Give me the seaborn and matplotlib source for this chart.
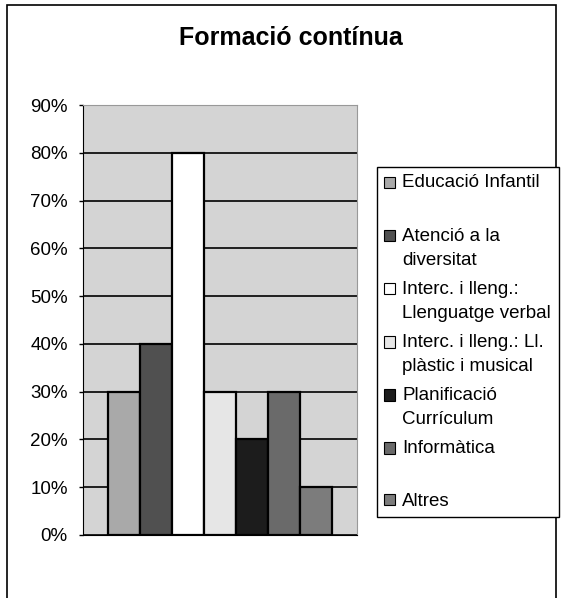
import matplotlib
matplotlib.use("Agg")
import matplotlib.pyplot as plt
import seaborn as sns
import pandas as pd
from matplotlib.patches import Patch, Rectangle
from matplotlib.legend_handler import HandlerPatch

# data
categories = ["Educació Infantil", "Atenció a la diversitat",
              "Interc. i lleng.: Llenguatge verbal",
              "Interc. i lleng.: Ll. plàstic i musical",
              "Planificació Currículum", "Informàtica", "Altres"]
values = [30, 40, 80, 30, 20, 30, 10]
legend_labels = ["Educació Infantil\n ", "Atenció a la\ndiversitat",
                 "Interc. i lleng.:\nLlenguatge verbal",
                 "Interc. i lleng.: Ll.\nplàstic i musical",
                 "Planificació\nCurrículum", "Informàtica\n ", "Altres"]
colors = ["#a9a9a9", "#505050", "#ffffff", "#e6e6e6", "#1c1c1c", "#6a6a6a", "#7c7c7c"]
yticks = [0, 10, 20, 30, 40, 50, 60, 70, 80, 90]

plt.rcParams["font.family"] = ["Liberation Sans", "DejaVu Sans"]

df = pd.DataFrame({"grup": [""] * len(categories), "categoria": categories, "valor": values})

fig = plt.figure(figsize=(5.65, 5.98), dpi=100)
ax = fig.add_axes([0.147, 0.1054, 0.485, 0.719])

sns.barplot(data=df, x="grup", y="valor", hue="categoria", hue_order=categories,
            palette=colors, width=0.82, edgecolor="black", linewidth=1.6,
            ax=ax, legend=False, saturation=1)

ax.set_ylim(0, 90)
ax.set_xlim(-0.5, 0.5)
ax.set_yticks(yticks)
ax.set_yticklabels([f"{v}%" for v in yticks], fontsize=13.5)
ax.set_xticks([])
ax.set_xlabel("")
ax.set_ylabel("")
ax.set_facecolor("#d4d4d4")
ax.grid(axis="y", color="black", linewidth=1.2)
ax.set_axisbelow(True)
ax.tick_params(axis="y", length=3, width=1, pad=8)
ax.spines["left"].set_linestyle((0, (2, 1)))
ax.spines["top"].set_color("#999999")
ax.spines["right"].set_color("#999999")

fig.text(291 / 565, 1 - 45 / 598, "Formació contínua", ha="center", va="baseline",
         fontsize=18, fontweight="bold")


def top_patch(legend, orig_handle, xdescent, ydescent, width, height, fontsize):
    shift = 0 if orig_handle.get_gid() == "single" else 0.67 * fontsize
    return Rectangle((-xdescent, -ydescent + shift), width, height)


handles = [Patch(facecolor=c, edgecolor="black", linewidth=0.8) for c in colors]
handles[-1].set_gid("single")
leg = fig.legend(handles, legend_labels, loc="upper left",
                 bbox_to_anchor=(377 / 565, 1 - 167 / 598), fontsize=13.5,
                 fancybox=False, framealpha=1, edgecolor="black",
                 handlelength=0.55, handleheight=0.55, handletextpad=0.4,
                 labelspacing=0.6, borderpad=0.4, borderaxespad=0,
                 handler_map={Patch: HandlerPatch(patch_func=top_patch)})
leg.get_frame().set_linewidth(1.0)
for t in leg.get_texts():
    t.set_linespacing(1.6)

# outer chart border
fig.add_artist(Rectangle((7 / 565, -0.02), 549 / 565, 1.02 - 5 / 598,
                         transform=fig.transFigure, fill=False,
                         edgecolor="black", linewidth=1.2))

fig.savefig("out.png", dpi=100)
